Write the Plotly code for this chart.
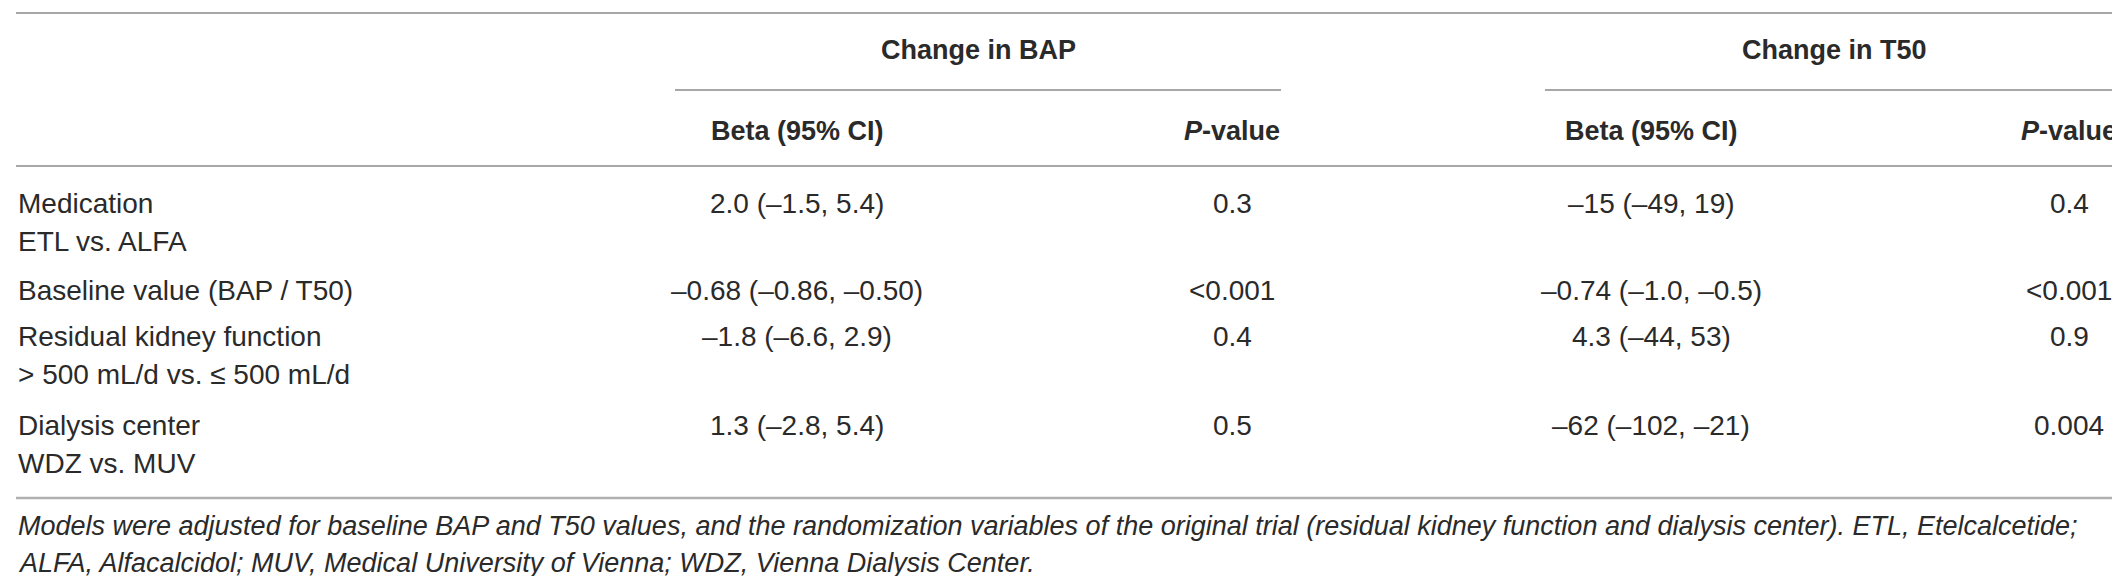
import plotly.graph_objects as go

# table content
group_titles = ["Change in BAP", "Change in T50"]
sub_titles = ["Beta (95% CI)", "<i>P</i>-value", "Beta (95% CI)", "<i>P</i>-value"]

row_labels = [
    ["Medication", "ETL vs. ALFA"],
    ["Baseline value (BAP / T50)"],
    ["Residual kidney function", "> 500 mL/d vs. ≤ 500 mL/d"],
    ["Dialysis center", "WDZ vs. MUV"],
]
bap_beta = ["2.0 (–1.5, 5.4)", "–0.68 (–0.86, –0.50)", "–1.8 (–6.6, 2.9)", "1.3 (–2.8, 5.4)"]
bap_p = ["0.3", "<0.001", "0.4", "0.5"]
t50_beta = ["–15 (–49, 19)", "–0.74 (–1.0, –0.5)", "4.3 (–44, 53)", "–62 (–102, –21)"]
t50_p = ["0.4", "<0.001", "0.9", "0.004"]

footnote = [
    "Models were adjusted for baseline BAP and T50 values, and the randomization variables of the original trial "
    "(residual kidney function and dialysis center). ETL, Etelcalcetide;",
    "ALFA, Alfacalcidol; MUV, Medical University of Vienna; WDZ, Vienna Dialysis Center.",
]

# layout (pixel coordinates of the page)
W, H = 2120, 576
FONT = "Liberation Sans"
TXT = "#2a2a2a"
col_x = [789, 1224, 1643, 2061]
group_x = [970, 1826]
group_span = [(667, 1273), (1537, 2113)]
row_y = [195, 282, 328, 417]
line_gap = 38

fig = go.Figure()
fig.add_trace(go.Scatter(x=[0, W], y=[0, H], mode="markers",
                         marker=dict(opacity=0), hoverinfo="skip", showlegend=False))

ann = []


def txt(x, y, s, xanchor="center", bold=False, italic=False, size=28):
    ann.append(dict(x=x, y=y, xref="x", yref="y", text=s, showarrow=False,
                    xanchor=xanchor, yanchor="middle", align="left" if xanchor == "left" else "center",
                    font=dict(family=FONT, size=size, color=TXT,
                              weight="bold" if bold else "normal",
                              style="italic" if italic else "normal")))


for gx, gt in zip(group_x, group_titles):
    txt(gx, 42, gt, bold=True, size=27)
for cx, st in zip(col_x, sub_titles):
    txt(cx, 123, st, bold=True, size=27)

for i, lab in enumerate(row_labels):
    for j, part in enumerate(lab):
        txt(8, row_y[i] + j * line_gap, part, xanchor="left")
    for cx, col in zip(col_x, [bap_beta, bap_p, t50_beta, t50_p]):
        txt(cx, row_y[i], col[i])

for k, line in enumerate(footnote):
    txt(8, 518 + k * 37, line, xanchor="left", italic=True, size=27)

shapes = []


def hline(x0, x1, y, w=1.5, c="#8a8a8a"):
    shapes.append(dict(type="line", xref="x", yref="y", x0=x0, x1=x1, y0=y, y1=y,
                       line=dict(color=c, width=w)))


hline(8, 2113, 5)
for a, b in group_span:
    hline(a, b, 82)
hline(8, 2113, 158)
hline(8, 2113, 490, w=2.5, c="#b0b0b0")

fig.update_layout(
    width=W, height=H,
    margin=dict(l=0, r=0, t=0, b=0),
    paper_bgcolor="white", plot_bgcolor="white",
    xaxis=dict(range=[0, W], visible=False, fixedrange=True),
    yaxis=dict(range=[H, 0], visible=False, fixedrange=True),
    annotations=ann, shapes=shapes,
    showlegend=False,
)

fig.write_html("out.html")
